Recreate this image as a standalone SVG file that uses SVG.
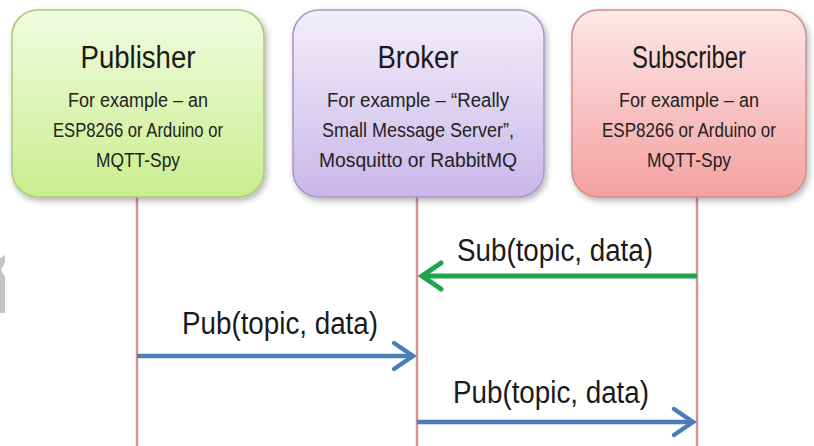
<svg xmlns="http://www.w3.org/2000/svg" width="814" height="446" viewBox="0 0 814 446">
<style>
.title{font-family:"Liberation Sans",Arial,sans-serif;font-size:31px;fill:#1a1a1a;text-anchor:middle}
.sub{font-family:"Liberation Sans",Arial,sans-serif;font-size:20px;fill:#222222;text-anchor:middle}
.lbl{font-family:"Liberation Sans",Arial,sans-serif;font-size:31px;fill:#1a1a1a;text-anchor:middle}
.life{stroke:#d69594;stroke-width:2.5;fill:none}
.box{stroke-width:1.5}
</style>
<defs>
<linearGradient id="gG" x1="0" y1="0" x2="0" y2="1"><stop offset="0" stop-color="#f1fbdf"/><stop offset="1" stop-color="#c9ee8d"/></linearGradient>
<linearGradient id="gP" x1="0" y1="0" x2="0" y2="1"><stop offset="0" stop-color="#f3effa"/><stop offset="1" stop-color="#c8b7ea"/></linearGradient>
<linearGradient id="gR" x1="0" y1="0" x2="0" y2="1"><stop offset="0" stop-color="#fde8e8"/><stop offset="1" stop-color="#f4a09f"/></linearGradient>
<filter id="sh" x="-10%" y="-10%" width="125%" height="130%"><feDropShadow dx="2" dy="3" stdDeviation="3" flood-color="#000" flood-opacity="0.3"/></filter>
<marker id="aG" markerUnits="userSpaceOnUse" viewBox="-26 -18 30 36" markerWidth="30" markerHeight="36" refX="0" refY="0" orient="auto"><path d="M-19,-13 L0,0 L-19,13" fill="none" stroke="#1fa34c" stroke-width="5" stroke-linecap="round"/></marker>
<marker id="aB" markerUnits="userSpaceOnUse" viewBox="-26 -18 30 36" markerWidth="30" markerHeight="36" refX="0" refY="0" orient="auto"><path d="M-19,-13 L0,0 L-19,13" fill="none" stroke="#4a7ebb" stroke-width="4.5" stroke-linecap="round"/></marker>
</defs>
<rect width="814" height="446" fill="#ffffff"/>
<polygon points="0,258 5,255 5,262 1,270 5,277 5,313 0,313" fill="#c4c4c4"/>
<g id="lifelines">
<line class="life" x1="137" y1="196" x2="137" y2="446"/>
<line class="life" x1="417" y1="196" x2="417" y2="446"/>
<line class="life" x1="697" y1="196" x2="697" y2="446"/>
</g>
<g id="publisher">
<rect class="box" x="12" y="10" width="252" height="187" rx="26" fill="url(#gG)" stroke="#aac87c" filter="url(#sh)"/>
<text class="title" x="138" y="68" textLength="115" lengthAdjust="spacingAndGlyphs">Publisher</text>
<text class="sub" x="138" y="107" textLength="140" lengthAdjust="spacingAndGlyphs">For example – an</text>
<text class="sub" x="138" y="137" textLength="170" lengthAdjust="spacingAndGlyphs">ESP8266 or Arduino or</text>
<text class="sub" x="138" y="167" textLength="84" lengthAdjust="spacingAndGlyphs">MQTT-Spy</text>
</g>
<g id="broker">
<rect class="box" x="293" y="10" width="251" height="187" rx="26" fill="url(#gP)" stroke="#a797c6" filter="url(#sh)"/>
<text class="title" x="418" y="68" textLength="81" lengthAdjust="spacingAndGlyphs">Broker</text>
<text class="sub" x="418" y="107" textLength="182" lengthAdjust="spacingAndGlyphs">For example – “Really</text>
<text class="sub" x="418" y="137" textLength="192" lengthAdjust="spacingAndGlyphs">Small Message Server”,</text>
<text class="sub" x="418" y="167" textLength="198" lengthAdjust="spacingAndGlyphs">Mosquitto or RabbitMQ</text>
</g>
<g id="subscriber">
<rect class="box" x="572" y="10" width="234" height="187" rx="26" fill="url(#gR)" stroke="#cf8f8e" filter="url(#sh)"/>
<text class="title" x="689" y="68" textLength="114" lengthAdjust="spacingAndGlyphs">Subscriber</text>
<text class="sub" x="689" y="107" textLength="140" lengthAdjust="spacingAndGlyphs">For example – an</text>
<text class="sub" x="689" y="137" textLength="174" lengthAdjust="spacingAndGlyphs">ESP8266 or Arduino or</text>
<text class="sub" x="689" y="167" textLength="84" lengthAdjust="spacingAndGlyphs">MQTT-Spy</text>
</g>
<g id="connectors">
<line x1="697" y1="276" x2="422" y2="276" stroke="#1fa34c" stroke-width="5" marker-end="url(#aG)"/>
<line x1="137" y1="356" x2="413" y2="356" stroke="#4a7ebb" stroke-width="4.5" marker-end="url(#aB)"/>
<line x1="417" y1="422" x2="693" y2="422" stroke="#4a7ebb" stroke-width="4.5" marker-end="url(#aB)"/>
<text class="lbl" x="555" y="261" textLength="196" lengthAdjust="spacingAndGlyphs">Sub(topic, data)</text>
<text class="lbl" x="280" y="334" textLength="196" lengthAdjust="spacingAndGlyphs">Pub(topic, data)</text>
<text class="lbl" x="551" y="403" textLength="196" lengthAdjust="spacingAndGlyphs">Pub(topic, data)</text>
</g>
</svg>
